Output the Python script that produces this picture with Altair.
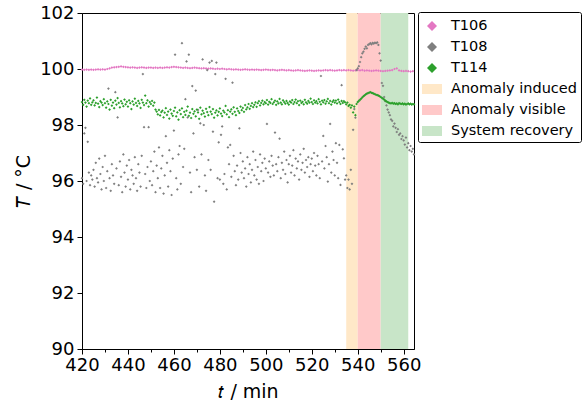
import altair as alt
import pandas as pd

# ---------------- data ----------------
T106_T0, T106_STEP = 420, 1.0          # minutes
FAST_T0, FAST_STEP = 420, 0.5          # minutes (T108, T114)

T106 = [
    99.98, 99.97, 99.98, 99.97, 99.98, 99.97, 99.98, 99.99, 99.98, 99.99, 99.98,
    100.00, 100.02, 100.05, 100.06, 100.07, 100.08, 100.09, 100.08, 100.07, 100.06,
    100.05, 100.06, 100.05, 100.04, 100.05, 100.06, 100.05, 100.04, 100.05, 100.05,
    100.04, 100.05, 100.04, 100.05, 100.04, 100.05, 100.06, 100.05, 100.07, 100.08,
    100.07, 100.06, 100.05, 100.04, 100.05, 100.04, 100.03, 100.04, 100.05, 100.04,
    100.03, 100.02, 100.03, 100.02, 100.01, 100.02, 100.01, 100.00, 100.01, 100.00,
    100.01, 100.00, 99.99, 100.00, 99.99, 99.98, 99.99, 99.98, 99.97, 99.98,
    99.99, 99.98, 99.97, 99.98, 99.97, 99.98, 99.97, 99.96, 99.97, 99.98,
    99.97, 99.96, 99.97, 99.96, 99.95, 99.96, 99.97, 99.96, 99.95, 99.96,
    99.95, 99.94, 99.95, 99.96, 99.95, 99.94, 99.93, 99.94, 99.95, 99.94,
    99.93, 99.94, 99.95, 99.94, 99.95, 99.96, 99.95, 99.96, 99.95, 99.94,
    99.95, 99.96, 99.95, 99.96, 99.95, 99.96, 99.95, 99.94, 99.95, 99.96,
    99.95, 99.96, 99.94, 99.95, 99.94, 99.93, 99.94, 99.95, 99.94, 99.93,
    99.92, 99.93, 99.94, 99.95, 99.96, 100.00, 100.02, 99.95, 99.93, 99.92,
    99.93, 99.92, 99.91, 99.92,
]

T108 = [
    96.10, 95.90, 97.70, 97.90, 96.00, 97.40, 96.30, 95.85, 96.20, 96.05,
    96.40, 95.80, 96.65, 96.10, 95.95, 96.80, 96.25, 95.70, 96.50, 96.00,
    96.90, 95.75, 96.35, 99.30, 96.10, 95.65, 96.60, 96.20, 95.90, 99.17,
    96.45, 98.27, 95.85, 96.70, 96.15, 95.60, 96.95, 96.30, 95.80, 96.55,
    96.05, 96.75, 95.70, 96.40, 96.20, 95.90, 96.85, 96.10, 95.65, 96.60,
    96.30, 95.80, 96.90, 99.82, 97.92, 96.25, 95.75, 96.50, 97.92, 96.00,
    96.70, 95.85, 96.35, 97.05, 95.60, 96.55, 96.10, 97.20, 95.75, 96.45,
    96.90, 95.55, 96.20, 97.60, 96.65, 95.80, 97.10, 96.35, 95.50, 96.80,
    97.80, 100.51, 96.10, 95.70, 96.95, 97.25, 95.90, 100.92, 96.50, 97.15,
    98.92, 100.27, 98.27, 100.51, 96.30, 95.60, 99.39, 97.70, 96.85, 99.23,
    96.40, 98.54, 95.80, 98.06, 96.95, 100.34, 98.00, 96.20, 95.65, 99.96,
    96.75, 100.23, 96.40, 100.29, 97.76, 95.26, 99.82, 100.23, 96.10, 97.38,
    96.05, 97.65, 97.95, 95.90, 96.25, 99.65, 95.70, 97.20, 96.60, 97.29,
    96.15, 99.51, 96.90, 96.35, 95.85, 96.55, 96.05, 97.88, 97.00, 96.30,
    96.70, 96.10, 96.45, 95.80, 96.85, 96.25, 96.60, 95.95, 96.40, 97.05,
    96.20, 96.75, 96.05, 96.50, 95.90, 96.95, 96.35, 96.65, 96.00, 96.80,
    96.45, 98.04, 96.30, 96.70, 96.15, 96.90, 96.55, 96.20, 97.73, 96.60,
    96.35, 96.85, 97.51, 96.10, 96.65, 96.40, 97.05, 96.25, 96.75, 95.95,
    96.60, 96.90, 96.30, 96.55, 97.10, 96.20, 96.80, 96.45, 96.70, 96.05,
    96.95, 96.40, 96.65, 97.15, 96.30, 96.75, 96.50, 96.85, 96.15, 96.60,
    96.80, 96.35, 97.00, 96.55, 96.20, 96.90, 96.60, 96.10, 99.75, 96.70,
    97.61, 96.45, 97.25, 96.85, 95.98, 96.60, 98.04, 96.30, 97.05, 96.75,
    96.20, 97.35, 96.65, 96.10, 97.29, 95.86, 99.42, 97.13, 96.81, 96.05,
    96.20, 95.75, 96.05, 95.70, 96.40, 95.90, 97.83, 98.57, 98.26, 99.96,
    100.02, 100.10, 100.25, 100.42, 100.56, 100.62, 100.72, 100.80, 100.74, 100.86,
    100.89, 100.92, 100.88, 100.93, 100.91, 100.94, 100.92, 100.95, 100.86, 100.56,
    100.30, 99.50, 99.40, 99.00, 98.85, 98.70, 98.55, 98.45, 98.35, 98.20,
    98.15, 97.95, 98.05, 97.90, 97.75, 97.85, 97.65, 97.70, 97.50, 97.60,
    97.45, 97.30, 97.55, 97.20, 97.35, 97.10, 97.25, 97.05, 97.15, 96.95,
]

T114 = [
    98.82, 98.72, 98.90, 98.80, 98.66, 98.87, 98.78, 98.95, 98.72, 98.81,
    98.88, 98.70, 98.79, 98.98, 98.76, 98.64, 98.85, 98.80, 98.71, 98.92,
    98.78, 98.62, 98.84, 98.75, 98.55, 98.90, 98.69, 98.80, 98.60, 98.87,
    98.73, 98.96, 98.79, 98.63, 98.85, 98.77, 98.67, 98.91, 98.74, 98.83,
    98.66, 98.88, 98.78, 98.57, 98.84, 98.73, 98.94, 98.79, 98.68, 98.86,
    98.77, 98.61, 98.90, 98.80, 98.71, 99.05, 98.78, 98.88, 98.66, 98.82,
    98.75, 98.86, 98.69, 98.80, 98.55, 98.48, 98.38, 98.54, 98.34, 98.46,
    98.51, 98.27, 98.44, 98.60, 98.36, 98.48, 98.23, 98.55, 98.41, 98.33,
    98.50, 98.62, 98.31, 98.45, 98.19, 98.53, 98.39, 98.59, 98.28, 98.47,
    98.36, 98.51, 98.66, 98.33, 98.44, 98.25, 98.57, 98.40, 98.49, 98.31,
    98.55, 98.45, 98.22, 98.62, 98.38, 98.51, 98.42, 98.30, 98.58, 98.46,
    98.35, 98.64, 98.48, 98.39, 98.57, 98.26, 98.44, 98.52, 98.34, 98.47,
    98.59, 98.41, 98.32, 98.51, 98.45, 98.68, 98.38, 98.53, 98.28, 98.48,
    98.56, 98.40, 98.63, 98.47, 98.35, 98.59, 98.50, 98.43, 98.66, 98.53,
    98.61, 98.47, 98.71, 98.56, 98.63, 98.75, 98.58, 98.68, 98.78, 98.64,
    98.72, 98.81, 98.65, 98.78, 98.85, 98.70, 98.79, 98.87, 98.74, 98.82,
    98.78, 98.89, 98.73, 98.83, 98.79, 98.92, 98.75, 98.81, 98.87, 98.72,
    98.84, 98.77, 98.93, 98.80, 98.74, 98.88, 98.82, 98.76, 98.86, 98.79,
    98.73, 98.84, 98.80, 98.89, 98.75, 98.82, 98.91, 98.78, 98.85, 98.71,
    98.87, 98.79, 98.83, 98.74, 98.90, 98.81, 98.76, 98.86, 98.80, 98.94,
    98.82, 98.75, 98.88, 98.80, 98.85, 98.77, 98.92, 98.83, 98.74, 98.87,
    98.81, 98.89, 98.76, 98.84, 98.93, 98.78, 98.86, 98.73, 98.83, 98.88,
    98.80, 98.87, 98.77, 98.91, 98.82, 98.75, 98.86, 98.79, 98.85, 98.81,
    98.74, 98.80, 98.68, 98.72, 98.62, 98.70, 98.45, 98.66, 98.35, 98.75,
    98.82, 98.86, 98.90, 98.94, 98.99, 99.03, 99.06, 99.09, 99.12, 99.14,
    99.16, 99.17, 99.15, 99.14, 99.12, 99.10, 99.08, 99.07, 99.05, 99.03,
    99.00, 98.97, 98.94, 98.91, 98.87, 98.84, 98.82, 98.80, 98.78, 98.77,
    98.79, 98.76, 98.78, 98.75, 98.77, 98.74, 98.78, 98.76, 98.75, 98.77,
    98.74, 98.76, 98.73, 98.75, 98.77, 98.74, 98.76, 98.73, 98.75, 98.74,
]

SERIES = ["T106", "T108", "T114"]
BANDS = ["Anomaly induced", "Anomaly visible", "System recovery"]
BAND_START = [535, 540, 550]
BAND_END = [540, 550, 562]

X_TICKS = list(range(420, 561, 10))
Y_TICKS = list(range(90, 103, 2))

assert len(T106) == 145 and len(T108) == 290 and len(T114) == 290

# ---------------- tables ----------------
rows = []
for i, v in enumerate(T106):
    rows.append({"series": "T106", "t": T106_T0 + i * T106_STEP, "T": v})
for i, v in enumerate(T108):
    rows.append({"series": "T108", "t": FAST_T0 + i * FAST_STEP, "T": v})
for i, v in enumerate(T114):
    rows.append({"series": "T114", "t": FAST_T0 + i * FAST_STEP, "T": v})
pts = pd.DataFrame(rows)
bands = pd.DataFrame({"series": BANDS, "start": BAND_START, "end": BAND_END})

# ---------------- styling ----------------
FONT = "DejaVu Sans"
DOMAIN = SERIES + BANDS
COLORS = ["#e377c2", "#7f7f7f", "#2ca02c", "#ffe8c8", "#ffc9c9", "#c8e5c8"]
DIAMOND = "M0,-0.5L0.5,0L0,0.5L-0.5,0Z"
RECT = "M-1,-0.5L1,-0.5L1,0.5L-1,0.5Z"
SHAPES = [DIAMOND] * 3 + [RECT] * 3

legend = alt.Legend(
    title=None, orient="none", legendX=336, legendY=-1,
    padding=4, rowPadding=4, labelOffset=9, symbolSize=400,
    labelFontSize=14.5, labelFont=FONT, labelColor="black",
    strokeColor="black", fillColor="white", cornerRadius=2,
    symbolStrokeWidth=0, symbolOpacity=1,
)
color = alt.Color("series:N", scale=alt.Scale(domain=DOMAIN, range=COLORS), legend=legend)
shape = alt.Shape("series:N", scale=alt.Scale(domain=DOMAIN, range=SHAPES), legend=legend)

xscale = alt.Scale(domain=[420, 564.5], nice=False, zero=False)
yscale = alt.Scale(domain=[90, 102], nice=False, zero=False)

common_axis = dict(
    grid=False, domainColor="black", tickColor="black", labelColor="black",
    titleColor="black", labelFont=FONT, titleFont=FONT, labelFontSize=18,
    titleFontSize=19, titleFontWeight="normal", labelFlush=False, labelOverlap=False,
)
xaxis = alt.Axis(
    title="𝑡 / min", values=X_TICKS,
    labelExpr="datum.value % 20 === 0 ? datum.label : ''",
    tickSize={"condition": {"test": "datum.value % 20 !== 0", "value": 3}, "value": 5},
    labelPadding=2, titlePadding=8, **common_axis,
)
yaxis = alt.Axis(
    title="𝑇 / °C", values=Y_TICKS, tickSize=5, labelPadding=3, titlePadding=6,
    **common_axis,
)

band_layer = alt.Chart(bands).mark_rect().encode(
    x=alt.X("start:Q", scale=xscale, axis=xaxis),
    x2="end:Q",
    color=color,
)
point_layer = alt.Chart(pts).mark_point(filled=True, size=30, opacity=1, strokeWidth=0).encode(
    x=alt.X("t:Q", scale=xscale, axis=xaxis),
    y=alt.Y("T:Q", scale=yscale, axis=yaxis),
    color=color,
    shape=shape,
)

chart = alt.layer(band_layer, point_layer).properties(
    width=332, height=336,
    padding={"left": 82, "top": 13, "right": 170, "bottom": 59},
    autosize=alt.AutoSizeParams(type="none"),
    background="white",
).configure_view(stroke="black", strokeWidth=1)

chart.save("out.html", embed_options={"renderer": "svg", "actions": False})
